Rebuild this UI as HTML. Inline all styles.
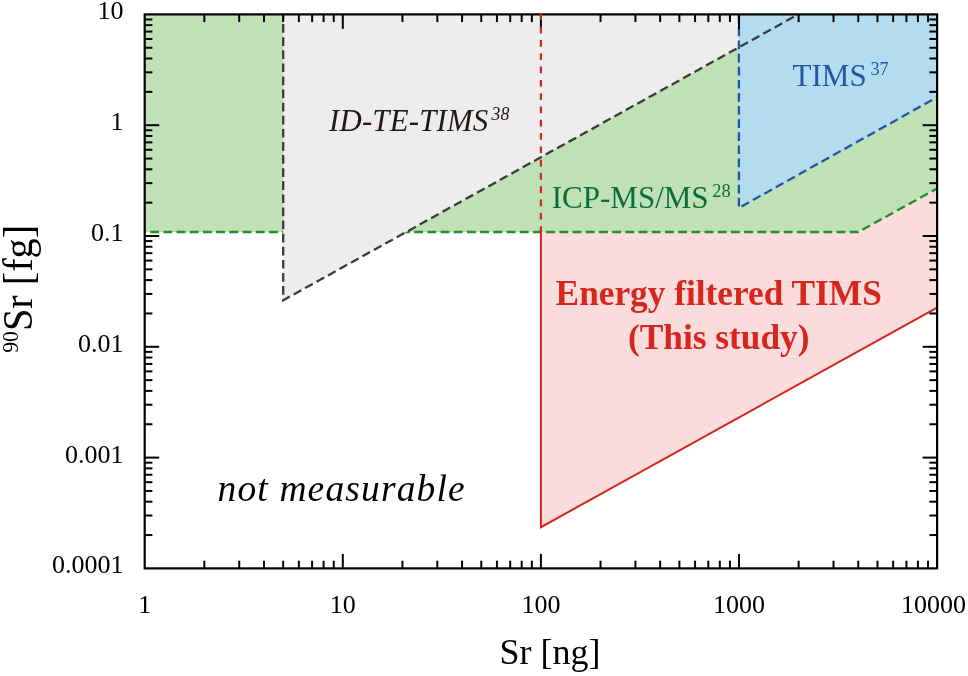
<!DOCTYPE html>
<html><head><meta charset="utf-8"><title>Sr chart</title>
<style>
html,body{margin:0;padding:0;background:#fff;}
body{width:968px;height:676px;overflow:hidden;}
svg{display:block;will-change:transform;}
text{font-family:"Liberation Serif",serif;}
</style></head>
<body>
<svg width="968" height="676" viewBox="0 0 968 676">
<rect width="968" height="676" fill="#ffffff"/>
<!-- fills -->
<polygon points="144.7,14.4 144.7,232 858.3,232 937.1,188.5 937.1,14.4" fill="#c0e0b6"/>
<polygon points="540.9,232 540.9,527.2 937.1,307.6 937.1,188.5 858.3,232" fill="#fadcdc"/>
<polyline points="144.7,232 858.3,232 937.1,188.5" fill="none" stroke="#1f8f2f" stroke-width="2.3" stroke-dasharray="8.8 4.4" stroke-dashoffset="7.7"/>
<polygon points="283.2,14.4 283.2,300.3 798.2,14.4" fill="#ededed"/>
<polygon points="738.9,14.4 738.9,207.9 937.1,97.2 937.1,14.4" fill="#b3dcee"/>
<!-- lines -->
<polyline points="283.2,13.6 283.2,300.3 798.2,14.4" fill="none" stroke="#3e3a39" stroke-width="2.3" stroke-dasharray="8.7 4.4" stroke-dashoffset="2.6"/>
<polyline points="738.9,14.4 738.9,207.9 937.1,97.2" fill="none" stroke="#2356a6" stroke-width="2.3" stroke-dasharray="8.7 4.4"/>
<polyline points="540.9,232 540.9,527.2 937.1,307.6" fill="none" stroke="#d7261c" stroke-width="2" stroke-linejoin="miter"/>
<!-- axes -->
<g stroke="#000" stroke-width="2.2" fill="none">
<rect x="144.7" y="14.4" width="792.4" height="554.0"/>
</g>
<g stroke="#000" stroke-width="2" fill="none">
<line x1="204.33" y1="568.4" x2="204.33" y2="560.70"/>
<line x1="204.33" y1="14.4" x2="204.33" y2="22.10"/>
<line x1="239.22" y1="568.4" x2="239.22" y2="560.70"/>
<line x1="239.22" y1="14.4" x2="239.22" y2="22.10"/>
<line x1="263.97" y1="568.4" x2="263.97" y2="560.70"/>
<line x1="263.97" y1="14.4" x2="263.97" y2="22.10"/>
<line x1="283.17" y1="568.4" x2="283.17" y2="560.70"/>
<line x1="283.17" y1="14.4" x2="283.17" y2="22.10"/>
<line x1="298.85" y1="568.4" x2="298.85" y2="560.70"/>
<line x1="298.85" y1="14.4" x2="298.85" y2="22.10"/>
<line x1="312.11" y1="568.4" x2="312.11" y2="560.70"/>
<line x1="312.11" y1="14.4" x2="312.11" y2="22.10"/>
<line x1="323.60" y1="568.4" x2="323.60" y2="560.70"/>
<line x1="323.60" y1="14.4" x2="323.60" y2="22.10"/>
<line x1="333.74" y1="568.4" x2="333.74" y2="560.70"/>
<line x1="333.74" y1="14.4" x2="333.74" y2="22.10"/>
<line x1="342.80" y1="568.4" x2="342.80" y2="553.90"/>
<line x1="342.80" y1="14.4" x2="342.80" y2="28.90"/>
<line x1="402.43" y1="568.4" x2="402.43" y2="560.70"/>
<line x1="402.43" y1="14.4" x2="402.43" y2="22.10"/>
<line x1="437.32" y1="568.4" x2="437.32" y2="560.70"/>
<line x1="437.32" y1="14.4" x2="437.32" y2="22.10"/>
<line x1="462.07" y1="568.4" x2="462.07" y2="560.70"/>
<line x1="462.07" y1="14.4" x2="462.07" y2="22.10"/>
<line x1="481.27" y1="568.4" x2="481.27" y2="560.70"/>
<line x1="481.27" y1="14.4" x2="481.27" y2="22.10"/>
<line x1="496.95" y1="568.4" x2="496.95" y2="560.70"/>
<line x1="496.95" y1="14.4" x2="496.95" y2="22.10"/>
<line x1="510.21" y1="568.4" x2="510.21" y2="560.70"/>
<line x1="510.21" y1="14.4" x2="510.21" y2="22.10"/>
<line x1="521.70" y1="568.4" x2="521.70" y2="560.70"/>
<line x1="521.70" y1="14.4" x2="521.70" y2="22.10"/>
<line x1="531.84" y1="568.4" x2="531.84" y2="560.70"/>
<line x1="531.84" y1="14.4" x2="531.84" y2="22.10"/>
<line x1="540.90" y1="568.4" x2="540.90" y2="553.90"/>
<line x1="540.90" y1="14.4" x2="540.90" y2="28.90"/>
<line x1="600.53" y1="568.4" x2="600.53" y2="560.70"/>
<line x1="600.53" y1="14.4" x2="600.53" y2="22.10"/>
<line x1="635.42" y1="568.4" x2="635.42" y2="560.70"/>
<line x1="635.42" y1="14.4" x2="635.42" y2="22.10"/>
<line x1="660.17" y1="568.4" x2="660.17" y2="560.70"/>
<line x1="660.17" y1="14.4" x2="660.17" y2="22.10"/>
<line x1="679.37" y1="568.4" x2="679.37" y2="560.70"/>
<line x1="679.37" y1="14.4" x2="679.37" y2="22.10"/>
<line x1="695.05" y1="568.4" x2="695.05" y2="560.70"/>
<line x1="695.05" y1="14.4" x2="695.05" y2="22.10"/>
<line x1="708.31" y1="568.4" x2="708.31" y2="560.70"/>
<line x1="708.31" y1="14.4" x2="708.31" y2="22.10"/>
<line x1="719.80" y1="568.4" x2="719.80" y2="560.70"/>
<line x1="719.80" y1="14.4" x2="719.80" y2="22.10"/>
<line x1="729.94" y1="568.4" x2="729.94" y2="560.70"/>
<line x1="729.94" y1="14.4" x2="729.94" y2="22.10"/>
<line x1="739.00" y1="568.4" x2="739.00" y2="553.90"/>
<line x1="739.00" y1="14.4" x2="739.00" y2="28.90"/>
<line x1="798.63" y1="568.4" x2="798.63" y2="560.70"/>
<line x1="798.63" y1="14.4" x2="798.63" y2="22.10"/>
<line x1="833.52" y1="568.4" x2="833.52" y2="560.70"/>
<line x1="833.52" y1="14.4" x2="833.52" y2="22.10"/>
<line x1="858.27" y1="568.4" x2="858.27" y2="560.70"/>
<line x1="858.27" y1="14.4" x2="858.27" y2="22.10"/>
<line x1="877.47" y1="568.4" x2="877.47" y2="560.70"/>
<line x1="877.47" y1="14.4" x2="877.47" y2="22.10"/>
<line x1="893.15" y1="568.4" x2="893.15" y2="560.70"/>
<line x1="893.15" y1="14.4" x2="893.15" y2="22.10"/>
<line x1="906.41" y1="568.4" x2="906.41" y2="560.70"/>
<line x1="906.41" y1="14.4" x2="906.41" y2="22.10"/>
<line x1="917.90" y1="568.4" x2="917.90" y2="560.70"/>
<line x1="917.90" y1="14.4" x2="917.90" y2="22.10"/>
<line x1="928.04" y1="568.4" x2="928.04" y2="560.70"/>
<line x1="928.04" y1="14.4" x2="928.04" y2="22.10"/>
<line x1="144.7" y1="535.05" x2="152.40" y2="535.05"/>
<line x1="937.1" y1="535.05" x2="929.40" y2="535.05"/>
<line x1="144.7" y1="515.53" x2="152.40" y2="515.53"/>
<line x1="937.1" y1="515.53" x2="929.40" y2="515.53"/>
<line x1="144.7" y1="501.69" x2="152.40" y2="501.69"/>
<line x1="937.1" y1="501.69" x2="929.40" y2="501.69"/>
<line x1="144.7" y1="490.95" x2="152.40" y2="490.95"/>
<line x1="937.1" y1="490.95" x2="929.40" y2="490.95"/>
<line x1="144.7" y1="482.18" x2="152.40" y2="482.18"/>
<line x1="937.1" y1="482.18" x2="929.40" y2="482.18"/>
<line x1="144.7" y1="474.76" x2="152.40" y2="474.76"/>
<line x1="937.1" y1="474.76" x2="929.40" y2="474.76"/>
<line x1="144.7" y1="468.34" x2="152.40" y2="468.34"/>
<line x1="937.1" y1="468.34" x2="929.40" y2="468.34"/>
<line x1="144.7" y1="462.67" x2="152.40" y2="462.67"/>
<line x1="937.1" y1="462.67" x2="929.40" y2="462.67"/>
<line x1="144.7" y1="457.60" x2="159.20" y2="457.60"/>
<line x1="937.1" y1="457.60" x2="922.60" y2="457.60"/>
<line x1="144.7" y1="424.25" x2="152.40" y2="424.25"/>
<line x1="937.1" y1="424.25" x2="929.40" y2="424.25"/>
<line x1="144.7" y1="404.73" x2="152.40" y2="404.73"/>
<line x1="937.1" y1="404.73" x2="929.40" y2="404.73"/>
<line x1="144.7" y1="390.89" x2="152.40" y2="390.89"/>
<line x1="937.1" y1="390.89" x2="929.40" y2="390.89"/>
<line x1="144.7" y1="380.15" x2="152.40" y2="380.15"/>
<line x1="937.1" y1="380.15" x2="929.40" y2="380.15"/>
<line x1="144.7" y1="371.38" x2="152.40" y2="371.38"/>
<line x1="937.1" y1="371.38" x2="929.40" y2="371.38"/>
<line x1="144.7" y1="363.96" x2="152.40" y2="363.96"/>
<line x1="937.1" y1="363.96" x2="929.40" y2="363.96"/>
<line x1="144.7" y1="357.54" x2="152.40" y2="357.54"/>
<line x1="937.1" y1="357.54" x2="929.40" y2="357.54"/>
<line x1="144.7" y1="351.87" x2="152.40" y2="351.87"/>
<line x1="937.1" y1="351.87" x2="929.40" y2="351.87"/>
<line x1="144.7" y1="346.80" x2="159.20" y2="346.80"/>
<line x1="937.1" y1="346.80" x2="922.60" y2="346.80"/>
<line x1="144.7" y1="313.45" x2="152.40" y2="313.45"/>
<line x1="937.1" y1="313.45" x2="929.40" y2="313.45"/>
<line x1="144.7" y1="293.93" x2="152.40" y2="293.93"/>
<line x1="937.1" y1="293.93" x2="929.40" y2="293.93"/>
<line x1="144.7" y1="280.09" x2="152.40" y2="280.09"/>
<line x1="937.1" y1="280.09" x2="929.40" y2="280.09"/>
<line x1="144.7" y1="269.35" x2="152.40" y2="269.35"/>
<line x1="937.1" y1="269.35" x2="929.40" y2="269.35"/>
<line x1="144.7" y1="260.58" x2="152.40" y2="260.58"/>
<line x1="937.1" y1="260.58" x2="929.40" y2="260.58"/>
<line x1="144.7" y1="253.16" x2="152.40" y2="253.16"/>
<line x1="937.1" y1="253.16" x2="929.40" y2="253.16"/>
<line x1="144.7" y1="246.74" x2="152.40" y2="246.74"/>
<line x1="937.1" y1="246.74" x2="929.40" y2="246.74"/>
<line x1="144.7" y1="241.07" x2="152.40" y2="241.07"/>
<line x1="937.1" y1="241.07" x2="929.40" y2="241.07"/>
<line x1="144.7" y1="236.00" x2="159.20" y2="236.00"/>
<line x1="937.1" y1="236.00" x2="922.60" y2="236.00"/>
<line x1="144.7" y1="202.65" x2="152.40" y2="202.65"/>
<line x1="937.1" y1="202.65" x2="929.40" y2="202.65"/>
<line x1="144.7" y1="183.13" x2="152.40" y2="183.13"/>
<line x1="937.1" y1="183.13" x2="929.40" y2="183.13"/>
<line x1="144.7" y1="169.29" x2="152.40" y2="169.29"/>
<line x1="937.1" y1="169.29" x2="929.40" y2="169.29"/>
<line x1="144.7" y1="158.55" x2="152.40" y2="158.55"/>
<line x1="937.1" y1="158.55" x2="929.40" y2="158.55"/>
<line x1="144.7" y1="149.78" x2="152.40" y2="149.78"/>
<line x1="937.1" y1="149.78" x2="929.40" y2="149.78"/>
<line x1="144.7" y1="142.36" x2="152.40" y2="142.36"/>
<line x1="937.1" y1="142.36" x2="929.40" y2="142.36"/>
<line x1="144.7" y1="135.94" x2="152.40" y2="135.94"/>
<line x1="937.1" y1="135.94" x2="929.40" y2="135.94"/>
<line x1="144.7" y1="130.27" x2="152.40" y2="130.27"/>
<line x1="937.1" y1="130.27" x2="929.40" y2="130.27"/>
<line x1="144.7" y1="125.20" x2="159.20" y2="125.20"/>
<line x1="937.1" y1="125.20" x2="922.60" y2="125.20"/>
<line x1="144.7" y1="91.85" x2="152.40" y2="91.85"/>
<line x1="937.1" y1="91.85" x2="929.40" y2="91.85"/>
<line x1="144.7" y1="72.33" x2="152.40" y2="72.33"/>
<line x1="937.1" y1="72.33" x2="929.40" y2="72.33"/>
<line x1="144.7" y1="58.49" x2="152.40" y2="58.49"/>
<line x1="937.1" y1="58.49" x2="929.40" y2="58.49"/>
<line x1="144.7" y1="47.75" x2="152.40" y2="47.75"/>
<line x1="937.1" y1="47.75" x2="929.40" y2="47.75"/>
<line x1="144.7" y1="38.98" x2="152.40" y2="38.98"/>
<line x1="937.1" y1="38.98" x2="929.40" y2="38.98"/>
<line x1="144.7" y1="31.56" x2="152.40" y2="31.56"/>
<line x1="937.1" y1="31.56" x2="929.40" y2="31.56"/>
<line x1="144.7" y1="25.14" x2="152.40" y2="25.14"/>
<line x1="937.1" y1="25.14" x2="929.40" y2="25.14"/>
<line x1="144.7" y1="19.47" x2="152.40" y2="19.47"/>
<line x1="937.1" y1="19.47" x2="929.40" y2="19.47"/>
</g>
<line x1="540.9" y1="13.4" x2="540.9" y2="232" stroke="#d7261c" stroke-width="2.2" stroke-dasharray="6.7 6.6"/>
<!-- tick labels -->
<g font-size="26" fill="#000">
<text x="123.6" y="19.4" text-anchor="end">10</text>
<text x="123.6" y="130.2" text-anchor="end">1</text>
<text x="123.6" y="241.0" text-anchor="end">0.1</text>
<text x="123.6" y="351.8" text-anchor="end">0.01</text>
<text x="123.6" y="462.6" text-anchor="end">0.001</text>
<text x="123.6" y="573.4" text-anchor="end">0.0001</text>
<text x="144.7" y="612.6" text-anchor="middle">1</text>
<text x="342.8" y="612.6" text-anchor="middle">10</text>
<text x="540.9" y="612.6" text-anchor="middle">100</text>
<text x="739.0" y="612.6" text-anchor="middle">1000</text>
<text x="933.5" y="612.6" text-anchor="middle">10000</text>
</g>
<!-- axis titles -->
<text x="550" y="664" font-size="36" text-anchor="middle" fill="#000">Sr [ng]</text>
<g transform="translate(32.2,352.8) rotate(-90) scale(0.925,0.975)">
<text x="0" y="0" font-size="43.5" fill="#000"><tspan font-size="23.5" dy="-14.2">90</tspan><tspan dy="14.2">Sr [fg]</tspan></text>
</g>
<!-- annotations -->
<text x="329" y="131.4" font-size="30.8" font-style="italic" fill="#231815" letter-spacing="0.2">ID-TE-TIMS<tspan font-size="17.8" dy="-11" dx="3">38</tspan></text>
<text x="792.6" y="85.8" font-size="31" fill="#2356a6">TIMS<tspan font-size="18.3" dy="-11" dx="3.8">37</tspan></text>
<text x="551.8" y="207.6" font-size="31" fill="#0a6e3a">ICP-MS/MS<tspan font-size="18.4" dy="-10.4" dx="3.6">28</tspan></text>
<text x="718.7" y="305.2" font-size="35.3" font-weight="bold" text-anchor="middle" fill="#d7261c">Energy filtered TIMS</text>
<text x="718.7" y="348.9" font-size="35.3" font-weight="bold" text-anchor="middle" fill="#d7261c">(This study)</text>
<text x="217.5" y="501.3" font-size="37.5" font-style="italic" fill="#000" letter-spacing="1.15">not measurable</text>
</svg>
</body></html>
